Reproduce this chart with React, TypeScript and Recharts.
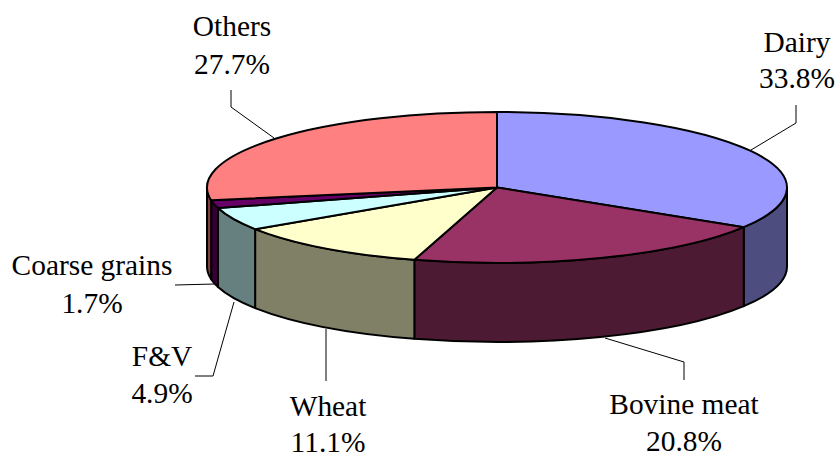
import React from "react";
import { PieChart, Pie } from "recharts";

const categories = ["Dairy", "Bovine meat", "Wheat", "F&V", "Coarse grains", "Others"];
const shares = [33.8, 20.8, 11.1, 4.9, 1.7, 27.7];
const topColors = ["#9999FF", "#993366", "#FFFFCC", "#CCFFFF", "#660066", "#FF8080"];
const wallColors = ["#4D4D80", "#4D1A33", "#808066", "#668080", "#330033", "#804040"];

const tableRows = categories.map((name, i) => ({
  name,
  value: shares[i],
  fill: topColors[i],
  wall: wallColors[i],
}));

// Label layout: centre x, baselines of the two lines, leader-line polyline
const labelLayout = [
  { x: 797, y1: 52, y2: 88, line: "796,105 796,123 751,150" },
  { x: 684, y1: 414, y2: 451, line: "684,380 684,362 605,338" },
  { x: 328, y1: 416, y2: 452, line: "326,381 326,329" },
  { x: 162, y1: 366, y2: 403, line: "195,376 213,376 234,302" },
  { x: 92, y1: 275, y2: 313, line: "175,285 215,284" },
  { x: 232, y1: 36, y2: 74, line: "231,90 231,107 274,138" },
];

const TILT = 75.5 / 290;
const DEPTH = 79;
const FONT = "'Liberation Serif', 'Times New Roman', serif";

function Slice(props: any) {
  const { cx, cy, outerRadius: R, startAngle, endAngle, fill, wall } = props;
  const ry = R * TILT;
  // clockwise angle measured from 12 o'clock
  const t0 = 90 - startAngle;
  const t1 = 90 - endAngle;
  const pt = (t: number, dy = 0) => {
    const r = (t * Math.PI) / 180;
    return [cx + R * Math.sin(r), cy - ry * Math.cos(r) + dy];
  };
  const [ax, ay] = pt(t0);
  const [bx, by] = pt(t1);
  const large = t1 - t0 > 180 ? 1 : 0;
  const top = `M${cx},${cy} L${ax},${ay} A${R},${ry} 0 ${large} 1 ${bx},${by} Z`;

  const w0 = Math.max(t0, 90);
  const w1 = Math.min(t1, 270);
  let wallPath = "";
  if (w1 > w0) {
    const [p, q] = pt(w0);
    const [r, s] = pt(w1);
    const [u, v] = pt(w1, DEPTH);
    const [m, n] = pt(w0, DEPTH);
    wallPath = `M${p},${q} A${R},${ry} 0 0 1 ${r},${s} L${u},${v} A${R},${ry} 0 0 0 ${m},${n} Z`;
  }
  return (
    <g>
      {wallPath && <path d={wallPath} fill={wall} stroke="#000" strokeWidth={2} strokeLinejoin="round" />}
      <path d={top} fill={fill} stroke="#000" strokeWidth={2} strokeLinejoin="round" />
    </g>
  );
}

function renderLabel(props: any) {
  const i = props.index;
  const l = labelLayout[i];
  const style = { fontFamily: FONT, fontSize: 29.4, fill: "#000" };
  return (
    <g key={i}>
      <text x={l.x} y={l.y1} textAnchor="middle" style={style}>{categories[i]}</text>
      <text x={l.x} y={l.y2} textAnchor="middle" style={style}>{shares[i].toFixed(1)}%</text>
    </g>
  );
}

function renderLine(props: any) {
  const l = labelLayout[props.index];
  return <polyline key={props.index} points={l.line} fill="none" stroke="#000" strokeWidth={1} />;
}

export default function App() {
  return (
    <div style={{ position: "absolute", left: 0, top: 0, width: 838, height: 456, background: "#fff" }}>
      <PieChart width={838} height={456} margin={{ top: 0, right: 0, bottom: 0, left: 0 }}>
        <Pie
          data={tableRows}
          dataKey="value"
          nameKey="name"
          cx={497}
          cy={187.5}
          innerRadius={0}
          outerRadius={290}
          startAngle={90}
          endAngle={-270}
          paddingAngle={0}
          isAnimationActive={false}
          shape={Slice}
          label={renderLabel}
          labelLine={renderLine}
        />
      </PieChart>
    </div>
  );
}
